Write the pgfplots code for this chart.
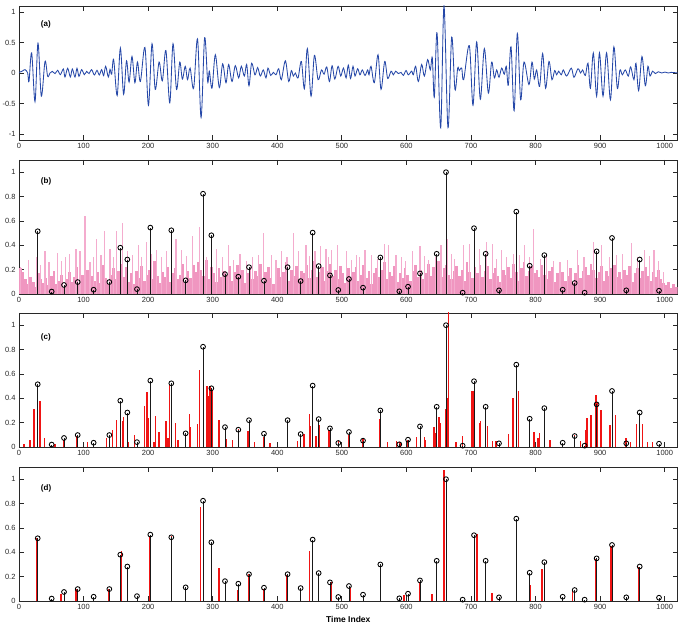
\documentclass[border=0pt]{standalone}
\usepackage{fontspec}
\setmainfont{Liberation Sans}
\usepackage{pgfplots}
\usepackage{pgfplotstable}
\pgfplotsset{compat=1.18}

\definecolor{sigblue}{RGB}{38,72,168}
\definecolor{pinkbase}{RGB}{240,150,192}
\definecolor{pinkspike}{RGB}{244,172,206}
\definecolor{barred}{RGB}{240,20,20}
\definecolor{axgray}{RGB}{40,40,40}

% true sparse spikes (same in b, c, d)
\pgfplotstableread{
x y
29 0.515
50.6 0.02
69.7 0.074
90.9 0.098
115.6 0.035
139.9 0.098
156.9 0.38
167.8 0.283
182.7 0.04
203.4 0.545
235.9 0.523
258.1 0.112
285 0.823
297.9 0.482
319 0.163
339.7 0.142
356.2 0.22
379.4 0.109
416 0.22
436.2 0.106
454.8 0.504
464.1 0.229
481.6 0.153
494.5 0.033
511 0.123
532.8 0.052
559.6 0.30
589 0.022
602.5 0.06
621 0.169
646.9 0.33
661.3 1.0
687.1 0.011
704.7 0.54
722.7 0.33
743.4 0.03
770.2 0.676
790.9 0.232
813.6 0.319
842 0.035
860.6 0.09
876 0.011
894.6 0.35
918.4 0.46
940.5 0.03
961.3 0.283
991.2 0.027
}\stems

% dense pink magnitudes, panel (b)
\pgfplotstableread{
x y
2 0.21
6 0.18
10 0.12
14 0.08
18 0.14
22 0.10
26 0.06
30 0.17
34 0.12
38 0.09
42 0.13
46 0.07
50 0.15
54 0.19
58 0.08
62 0.11
66 0.16
70 0.05
74 0.12
78 0.18
82 0.10
86 0.14
90 0.22
94 0.09
98 0.16
102 0.12
106 0.20
110 0.07
114 0.15
118 0.11
122 0.18
126 0.09
130 0.24
134 0.13
138 0.08
142 0.16
146 0.21
150 0.12
154 0.19
158 0.25
162 0.14
166 0.22
170 0.10
174 0.17
178 0.08
182 0.19
186 0.13
190 0.23
194 0.11
198 0.16
202 0.20
206 0.12
210 0.27
214 0.15
218 0.09
222 0.18
226 0.14
230 0.22
234 0.10
238 0.17
242 0.21
246 0.12
250 0.16
254 0.25
258 0.09
262 0.19
266 0.13
270 0.24
274 0.18
278 0.26
282 0.20
286 0.15
290 0.28
294 0.12
298 0.22
302 0.17
306 0.10
310 0.21
314 0.14
318 0.19
322 0.16
326 0.23
330 0.11
334 0.18
338 0.24
342 0.13
346 0.20
350 0.09
354 0.17
358 0.22
362 0.12
366 0.19
370 0.15
374 0.25
378 0.10
382 0.18
386 0.22
390 0.13
394 0.08
398 0.16
402 0.21
406 0.14
410 0.18
414 0.26
418 0.11
422 0.20
426 0.15
430 0.23
434 0.12
438 0.19
442 0.17
446 0.24
450 0.13
454 0.20
458 0.27
462 0.14
466 0.18
470 0.22
474 0.11
478 0.19
482 0.25
486 0.15
490 0.20
494 0.12
498 0.23
502 0.17
506 0.09
510 0.21
514 0.14
518 0.18
522 0.22
526 0.11
530 0.16
534 0.24
538 0.13
542 0.19
546 0.08
550 0.17
554 0.21
558 0.14
562 0.20
566 0.26
570 0.12
574 0.18
578 0.15
582 0.23
586 0.10
590 0.17
594 0.13
598 0.21
602 0.16
606 0.11
610 0.19
614 0.24
618 0.14
622 0.20
626 0.12
630 0.17
634 0.25
638 0.15
642 0.22
646 0.18
650 0.27
654 0.14
658 0.21
662 0.24
666 0.16
670 0.12
674 0.19
678 0.23
682 0.15
686 0.20
690 0.11
694 0.26
698 0.18
702 0.13
706 0.22
710 0.17
714 0.24
718 0.14
722 0.19
726 0.23
730 0.12
734 0.17
738 0.21
742 0.15
746 0.10
750 0.20
754 0.16
758 0.22
762 0.13
766 0.25
770 0.18
774 0.11
778 0.21
782 0.26
786 0.15
790 0.19
794 0.23
798 0.17
802 0.20
806 0.14
810 0.24
814 0.16
818 0.12
822 0.19
826 0.22
830 0.10
834 0.17
838 0.13
842 0.18
846 0.11
850 0.15
854 0.21
858 0.09
862 0.17
866 0.24
870 0.13
874 0.19
878 0.22
882 0.16
886 0.25
890 0.20
894 0.13
898 0.18
902 0.23
906 0.11
910 0.19
914 0.15
918 0.21
922 0.24
926 0.14
930 0.18
934 0.12
938 0.20
942 0.16
946 0.23
950 0.10
954 0.17
958 0.21
962 0.13
966 0.19
970 0.22
974 0.15
978 0.11
982 0.18
986 0.14
990 0.20
994 0.12
998 0.09
1002 0.07
1006 0.10
1010 0.05
1014 0.08
1018 0.06
}\pinkbase

\pgfplotstableread{
x y
2.6 0.22
15 0.28
27.4 0.30
33 0.24
40.3 0.35
46.5 0.26
59.9 0.34
66 0.27
72 0.30
78.9 0.33
88.3 0.37
94.5 0.35
102.2 0.64
110 0.26
115 0.30
120.3 0.45
127 0.32
132.2 0.52
140.9 0.37
146 0.30
150.7 0.52
160.5 0.58
168 0.35
176 0.32
184.8 0.40
190 0.30
197.7 0.43
205 0.33
212.7 0.36
220 0.30
228.7 0.35
236 0.28
243.2 0.45
252 0.36
260 0.31
269 0.48
279.4 0.55
291 0.30
306.3 0.37
315 0.30
324.2 0.40
332 0.28
342.3 0.33
352 0.27
362 0.30
371.2 0.32
378.4 0.50
391.3 0.32
398 0.28
406.8 0.35
415 0.30
424.8 0.50
432.6 0.35
444.5 0.40
450 0.31
458.4 0.35
467.2 0.39
475.4 0.37
480 0.30
484.2 0.36
493 0.40
507.4 0.35
515 0.28
522.9 0.32
528 0.30
535.8 0.36
546.1 0.32
555 0.29
565.7 0.41
572 0.40
583.8 0.32
592.6 0.30
599 0.27
609.6 0.35
621 0.39
628 0.31
634.4 0.28
645 0.30
653.5 0.40
663.3 0.45
670 0.33
674.7 0.29
689.1 0.40
697.4 0.41
705 0.30
712.9 0.37
724.2 0.43
733.5 0.41
740 0.29
747.4 0.36
755 0.30
765.5 0.33
775 0.32
782.5 0.40
790 0.30
797.5 0.53
808 0.29
817.1 0.33
828 0.27
837.8 0.26
850 0.28
864.6 0.36
875 0.30
889.4 0.43
895 0.32
902.3 0.40
915 0.30
925.5 0.32
935 0.33
948.8 0.42
958 0.30
969.4 0.36
976 0.31
983.4 0.36
990 0.27
997.8 0.18
}\pinkspikes

% red estimates, panel (c)
\pgfplotstableread{
x y
7.7 0.027
17 0.06
23.2 0.31
32.5 0.378
39.7 0.074
55.8 0.025
68.6 0.06
90 0.09
105.8 0.04
135.8 0.074
145 0.14
151.3 0.223
160.5 0.215
162 0.243
169 0.04
179 0.095
194.6 0.333
198.2 0.45
200 0.24
209 0.04
211 0.253
216.8 0.123
227.7 0.21
231 0.07
233.3 0.515
242 0.2
246 0.054
258 0.1
264.3 0.272
265.5 0.165
276.7 0.188
279.8 0.63
291.2 0.5
293.7 0.42
296 0.5
298.6 0.47
309.7 0.22
320.6 0.063
330.9 0.06
340 0.15
354.6 0.135
364.4 0.038
379 0.08
388.7 0.033
416 0.22
431.6 0.052
441.4 0.106
449.6 0.27
451.6 0.174
460 0.093
464.6 0.18
480 0.14
494.5 0.046
511 0.1
533 0.063
559 0.23
571 0.038
585 0.046
590 0.038
602 0.06
616 0.08
628.3 0.08
630 0.06
642.7 0.166
645 0.117
650.5 0.243
652 0.2
661 0.31
663.4 0.4
665.4 1.15
676.8 0.04
687 0.093
701.6 0.46
703 0.46
714 0.2
715 0.21
725.3 0.17
733.6 0.052
738.7 0.046
758.3 0.11
765 0.406
773.9 0.46
791 0.2
797.6 0.125
804 0.074
806.4 0.117
813.6 0.275
822.4 0.06
842 0.03
860.6 0.095
869.8 0.046
878 0.14
879.6 0.237
885.8 0.264
893.6 0.428
895 0.37
901.3 0.302
915.3 0.183
916.2 0.084
924 0.264
940 0.074
947.4 0.04
956.6 0.188
965.3 0.19
973 0.038
981 0.038
}\redc

% red estimates, panel (d)
\pgfplotstableread{
x y
27.4 0.518
65 0.06
88.3 0.09
90 0.1
139.5 0.095
158.5 0.414
203 0.537
236 0.53
280.8 0.768
309.7 0.27
338 0.087
356 0.22
379 0.1
414.5 0.21
449.6 0.414
484.2 0.155
512.6 0.11
559.6 0.29
596 0.046
621 0.155
639.6 0.055
658.2 1.075
709.3 0.553
732.5 0.063
770.2 0.67
792 0.128
810 0.26
857.5 0.09
892.5 0.346
916.8 0.455
959.6 0.278
}\redd

\pgfplotsset{
  panel/.style={
    scale only axis, width=658.6pt, height=134pt,
    xmin=0, xmax=1020,
    axis line style={axgray, line width=0.8pt},
    tick align=inside, tick pos=both,
    major tick length=5pt,
    tick style={axgray, line width=0.7pt},
    xtick={0,100,200,300,400,500,600,700,800,900,1000},
    xticklabels={0,100,200,300,400,500,600,700,800,900,1000},
    ticklabel style={font=\fontsize{7.5}{9}\selectfont, text=axgray},
  },
  stempanel/.style={panel, ymin=0, ymax=1.1,
    ytick={0,0.2,0.4,0.6,0.8,1}, yticklabels={0,0.2,0.4,0.6,0.8,1}},
  stemplot/.style={ycomb, black!90, line width=0.8pt, mark=o, mark size=2.4pt,
    mark options={solid, line width=0.85pt, black}},
}
\tikzset{plab/.style={anchor=west, font=\bfseries\fontsize{8}{9}\selectfont}}

\begin{document}
\begin{tikzpicture}
\useasboundingbox (0,0) rectangle (678pt,627pt);

% (a) signal
\begin{axis}[panel, at={(19pt,621pt)}, anchor=north west,
  ymin=-1.1, ymax=1.1, ytick={-1,-0.5,0,0.5,1}, yticklabels={-1,-0.5,0,0.5,1}]
\addplot[sigblue, line width=0.85pt, smooth, tension=0.55] coordinates {
(0,0.01)(5,0.03)(9.3,0.055)(13.4,0)(15.5,-0.14)(19.6,0.33)(24.8,-0.47)(29.4,0.49)(34.6,-0.38)(40.3,0.19)
(44.4,-0.055)(48,0)(51.6,0.027)(55.8,-0.01)(59.9,0.044)(64,-0.027)(68.7,0.066)(71.2,-0.066)(75.4,0.077)(79.5,-0.066)
(82.6,0.066)(86.7,-0.066)(89.8,0.077)(92.9,-0.055)(97,0.055)(101.2,-0.027)(104.8,0.027)(108.4,-0.01)(112.5,0.055)(116.7,-0.033)
(120.8,0.044)(124.4,-0.033)(128,0.055)(131.1,-0.044)(134.2,0.11)(138.3,-0.066)(141,0.06)(143.5,-0.02)(146.6,0.22)(152,-0.37)
(157,0.41)(162,-0.35)(166.5,0.2)(170.5,-0.15)(175,0.27)(179.5,-0.16)(183.5,0.18)(188,-0.14)(195,0.42)(200.5,-0.53)
(206,0.48)(211,-0.27)(217,0.18)(222,-0.13)(227.5,0.37)(233.5,-0.49)(238.5,0.48)(244,-0.27)(249,0.18)(253,-0.1)
(257.5,0.11)(261,-0.11)(265,0.08)(270.5,-0.25)(276.5,0.56)(282,-0.73)(287.5,0.58)(292.2,-0.14)(294.8,0.03)(298.9,-0.25)
(304.1,0.3)(310.2,-0.24)(315.4,0.15)(320.6,-0.16)(324.7,0.14)(329.9,-0.14)(335,0.12)(340.2,-0.08)(344.3,0.11)(349,-0.05)
(352.6,0.14)(356.2,-0.21)(360.3,0.16)(365.5,-0.03)(369.6,0.09)(373.7,-0.05)(378.4,0.05)(382.5,-0.08)(385.6,0.08)(389.8,-0.04)
(393.9,0.01)(398,-0.03)(402.2,0.07)(406.3,-0.11)(412.5,0.2)(417.7,-0.14)(421.8,0.04)(424.9,-0.05)(428,0)(432.2,-0.08)
(437.3,0.19)(442,-0.26)(446.6,0.4)(452.3,-0.38)(457.5,0.29)(463.2,-0.11)(468.4,0.05)(472.5,-0.02)(476.6,0.1)(480.8,-0.14)
(484.9,0.12)(489.1,-0.1)(494.2,0.11)(498.3,-0.05)(502.5,0.08)(506.6,-0.08)(510,0.13)(513.5,-0.09)(517.3,0.11)(520.4,-0.05)
(524.5,0.07)(528.1,-0.03)(531.7,0.05)(535.9,-0.04)(540,0.05)(542.1,-0.03)(545.2,0.11)(550.3,-0.16)(556,0.3)(560.7,-0.27)
(566.4,0.19)(571,-0.09)(576.2,0.03)(579.8,-0.03)(583.4,0.03)(587.5,-0.01)(591.7,0.01)(595.3,-0.04)(599.4,0.04)(603,-0.03)
(608.1,0.03)(610.7,-0.03)(614.3,0.11)(618.5,-0.14)(623.6,0.14)(627.8,-0.05)(632.9,0.22)(637,0.05)(640.1,0.25)(643.2,-0.4)
(647.4,0.66)(653.1,-0.9)(658.2,1.1)(664.4,-0.9)(670.1,0.59)(675.2,-0.27)(679.4,0.08)(682,0.04)(685.6,0.08)(688.7,-0.11)
(697.4,0.45)(703.1,-0.53)(708.8,0.51)(714.5,-0.43)(720.7,0.4)(726.9,-0.33)(732,0.18)(736.2,-0.08)(739.8,0.05)(743.4,-0.07)
(747.5,0.08)(751.6,-0.02)(754.7,0.11)(757.8,-0.2)(762,0.43)(766.8,-0.62)(771.8,0.65)(776.9,-0.44)(782.1,0.18)(789.8,-0.19)
(794.5,0.18)(798.1,-0.1)(801.7,0.05)(806.3,-0.22)(811,0.32)(815.6,-0.25)(820.8,0.19)(825.4,-0.11)(829.6,0.04)(832.7,-0.03)
(835.8,0.03)(839.9,-0.03)(843,0.05)(848.2,-0.05)(855.4,0.08)(859.5,-0.07)(865.7,0.07)(869.8,0)(872.9,0.05)(877.1,-0.04)
(881.2,0.16)(885,-0.25)(889.5,0.33)(894.6,-0.38)(899,0.33)(904.5,-0.38)(910,0.33)(916,-0.44)(921.3,0.43)(926.6,-0.25)
(930.7,0.05)(934.4,-0.03)(939,0.05)(943.7,-0.05)(947.3,0.1)(952.4,-0.11)(955.5,0.16)(959.7,-0.29)(964.8,0.27)(970,-0.21)
(974.1,0.11)(977.2,-0.05)(981.3,0.03)(985.5,-0.01)(990.1,0.02)(995.3,0)(1000.4,0.015)(1005.6,0)(1010,0.01)(1020,0)
};
\node[plab] at (rel axis cs:0.028,0.86) {(a)};
\end{axis}

% (b)
\begin{axis}[stempanel, at={(19pt,467pt)}, anchor=north west]
\addplot[ycomb, pinkbase, line width=2.65pt] table {\pinkbase};
\addplot[ycomb, pinkspike, line width=1.1pt] table {\pinkspikes};
\addplot[stemplot] table {\stems};
\node[plab] at (rel axis cs:0.028,0.84) {(b)};
\end{axis}

% (c)
\begin{axis}[stempanel, at={(19pt,314pt)}, anchor=north west]
\addplot[ycomb, barred, line width=1.4pt] table {\redc};
\addplot[stemplot] table {\stems};
\node[plab] at (rel axis cs:0.028,0.82) {(c)};
\end{axis}

% (d)
\begin{axis}[stempanel, at={(19pt,160pt)}, anchor=north west,
  xlabel={Time Index}, xlabel style={font=\bfseries\fontsize{8.5}{10}\selectfont}]
\addplot[ycomb, barred, line width=1.4pt] table {\redd};
\addplot[stemplot] table {\stems};
\node[plab] at (rel axis cs:0.028,0.84) {(d)};
\end{axis}
\end{tikzpicture}
\end{document}
